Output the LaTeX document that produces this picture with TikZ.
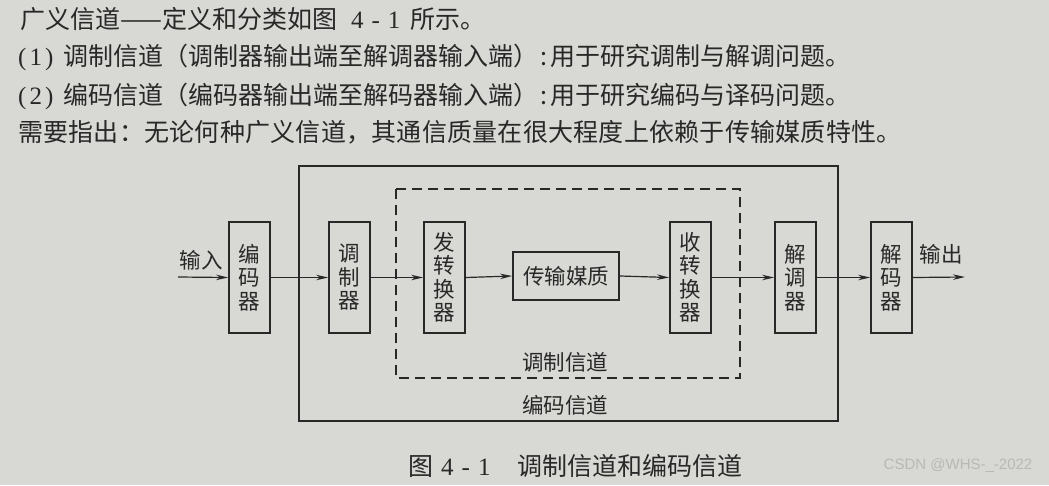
\documentclass[tikz,border=0pt]{standalone}
\usepackage{fontspec}
\setmainfont{Noto Sans CJK SC}
\newfontfamily\markfont{Liberation Sans}
\newfontfamily\numfont{Liberation Serif}
\usetikzlibrary{arrows.meta}

\definecolor{paper}{RGB}{216,216,212}
\definecolor{ink}{RGB}{40,40,40}

\newcommand{\itemno}[1]{\makebox[45pt][l]{{\numfont(\kern3pt#1\kern3pt)}}}
\newcommand{\fignum}{{\numfont 4\hspace{8pt}-\hspace{8pt}1}}
\newcommand{\halfcolon}{\makebox[0.5em]{:}}

\begin{document}
\begin{tikzpicture}[
        x=1pt, y=-1pt,
        para/.style={anchor=west, inner sep=0pt, text=ink, font=\fontsize{25}{28}\selectfont},
        blk/.style={draw=ink, line width=1.8pt, minimum width=41pt, minimum height=111pt,
            inner sep=0pt, align=center, text=ink, font=\fontsize{21.5}{23.5}\selectfont},
        wide/.style={blk, minimum width=106pt, minimum height=48pt},
        sig/.style={ink, line width=1.2pt, -{Stealth[length=12pt, width=5.5pt]}},
        chan/.style={ink, line width=1.8pt},
        label/.style={inner sep=0pt, text=ink, font=\fontsize{21.5}{24}\selectfont}
    ]

        % Paper
        \fill[paper] (0,0) rectangle (1049,485);

        % Text above the figure
        \node[para] (l1) at (20,19) {广义信道——定义和分类如图\hspace{14pt}\fignum\hspace{10pt}所示。};
        \node[para] (l2) at (18,57) {\itemno{1}调制信道（调制器输出端至解调器输入端）\halfcolon 用于研究调制与解调问题。};
        \node[para] (l3) at (18,96) {\itemno{2}编码信道（编码器输出端至解码器输入端）\halfcolon 用于研究编码与译码问题。};
        \node[para] (l4) at (18,132) {\addfontfeature{LetterSpace=1}需要指出：无论何种广义信道，其通信质量在很大程度上依赖于传输媒质特性。};

        % Channel boxes
        \draw[chan] (299,166) rectangle (838,421);
        \draw[chan, dashed, dash pattern=on 10pt off 6pt] (396,189) rectangle (740,378);
        \node[label] (modch) at (565,362) {调制信道};
        \node[label] (codch) at (565,405) {编码信道};

        % Blocks
        \node[blk] (enc) at (249.5,277.5) {编\\码\\器};
        \node[blk] (mod) at (349.5,277.5) {调\\制\\器};
        \node[blk] (tx) at (444.5,277.5) {发\\转\\换\\器};
        \node[wide] (med) at (566,276) {传输媒质};
        \node[blk] (rx) at (690.5,277.5) {收\\转\\换\\器};
        \node[blk] (dem) at (795.5,277.5) {解\\调\\器};
        \node[blk] (dec) at (891.5,277.5) {解\\码\\器};

        % Input and output
        \coordinate (in) at (178,277);
        \coordinate (out) at (965,277);
        \node[label] (inl) at (201,260) {输入};
        \node[label] (outl) at (941,254) {输出};

        % Signal path
        \draw[sig] (in) -- (enc.west);
        \draw[sig] (enc.east) -- (mod.west);
        \draw[sig] (mod.east) -- (tx.west);
        \draw[sig] (tx.east) -- (med.west);
        \draw[sig] (med.east) -- (rx.west);
        \draw[sig] (rx.east) -- (dem.west);
        \draw[sig] (dem.east) -- (dec.west);
        \draw[sig] (dec.east) -- (out);

        % Caption
        \node[label, anchor=west, font=\fontsize{25}{28}\selectfont] (cap) at (408,466) {图\hspace{8pt}\fignum\hspace{27pt}调制信道和编码信道};
        \node[inner sep=0pt, text=white!72!black, font=\markfont\fontsize{15}{18}\selectfont] (mark) at (958,466) {CSDN @WHS-\_-2022};

    \end{tikzpicture}
\end{document}
